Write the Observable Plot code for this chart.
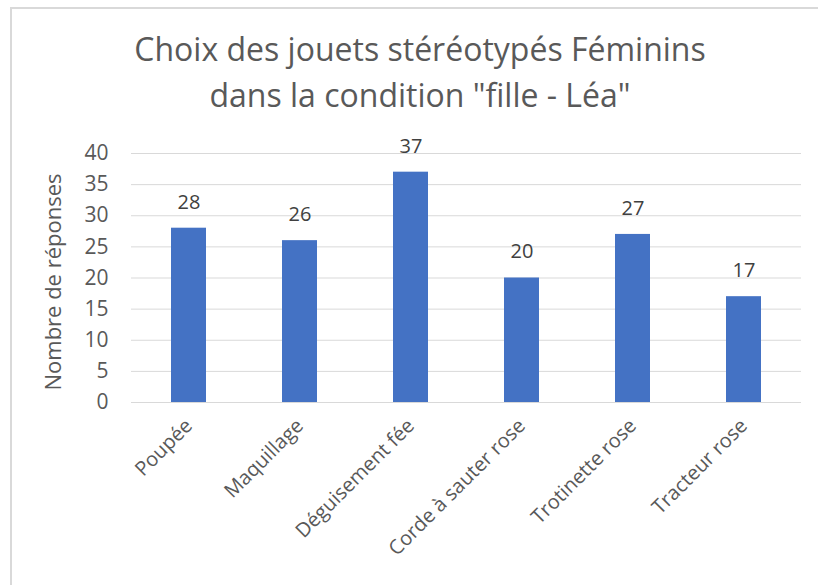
<!DOCTYPE html>
<html>
<head>
<meta charset="utf-8">
<script src="https://cdn.jsdelivr.net/npm/d3@7"></script>
<script src="https://cdn.jsdelivr.net/npm/@observablehq/plot@0.6"></script>
<style>
  html, body { margin: 0; padding: 0; background: #fff; }
  #wrap { position: relative; width: 818px; height: 585px; overflow: hidden; font-family: "Open Sans", sans-serif; }
  #frame { position: absolute; left: 10px; top: 7px; width: 820px; height: 600px; border-left: 2px solid #d9d9d9; border-top: 2px solid #d9d9d9; box-sizing: border-box; }
  #title { position: absolute; left: 0; top: 26px; width: 840px; text-align: center; font-size: 32px; line-height: 46px; color: #595959; }
  #chart { position: absolute; left: 0; top: 0; }
</style>
</head>
<body>
<div id="wrap">
  <div id="frame"></div>
  <div id="chart"></div>
  <div id="title">Choix des jouets stéréotypés Féminins<br>dans la condition "fille - Léa"</div>
</div>
<script>
const categories = ["Poupée", "Maquillage", "Déguisement fée", "Corde à sauter rose", "Trotinette rose", "Tracteur rose"];
const values = [28, 26, 37, 20, 27, 17];
const yTicks = [0, 5, 10, 15, 20, 25, 30, 35, 40];
const yLabel = "Nombre de réponses";

const data = categories.map((c, i) => ({ category: c, value: values[i] }));

const chart = Plot.plot({
  width: 818,
  height: 585,
  marginLeft: 131,
  marginRight: 17,
  marginTop: 153,
  marginBottom: 183,
  style: { fontFamily: "Open Sans, sans-serif", fontSize: "20px", color: "#595959", background: "transparent", overflow: "visible" },
  x: { domain: categories, paddingInner: 0.687, paddingOuter: 0.3435, label: null },
  y: { domain: [0, 40], ticks: yTicks, label: null },
  marks: [
    Plot.gridY(yTicks, { stroke: "#d9d9d9", strokeOpacity: 1, strokeWidth: 1 }),
    Plot.barY(data, { x: "category", y: "value", fill: "#4472C4" }),
    Plot.text(data, { x: "category", y: "value", text: d => String(d.value), dy: -26, fill: "#404040", fontSize: 20 }),
    Plot.axisY(yTicks, { tickSize: 0, tickPadding: 23, fontSize: 21, fill: "#595959", label: null }),
    Plot.text([yLabel], { text: d => d, frameAnchor: "left", textAnchor: "middle", rotate: -90, dx: -78, dy: 4, fontSize: 22, fill: "#595959" }),
    Plot.axisX({ tickSize: 0, tickPadding: 20, tickRotate: -45, fontSize: 20, fill: "#595959", label: null })
  ]
});
document.getElementById("chart").appendChild(chart);
</script>
</body>
</html>
